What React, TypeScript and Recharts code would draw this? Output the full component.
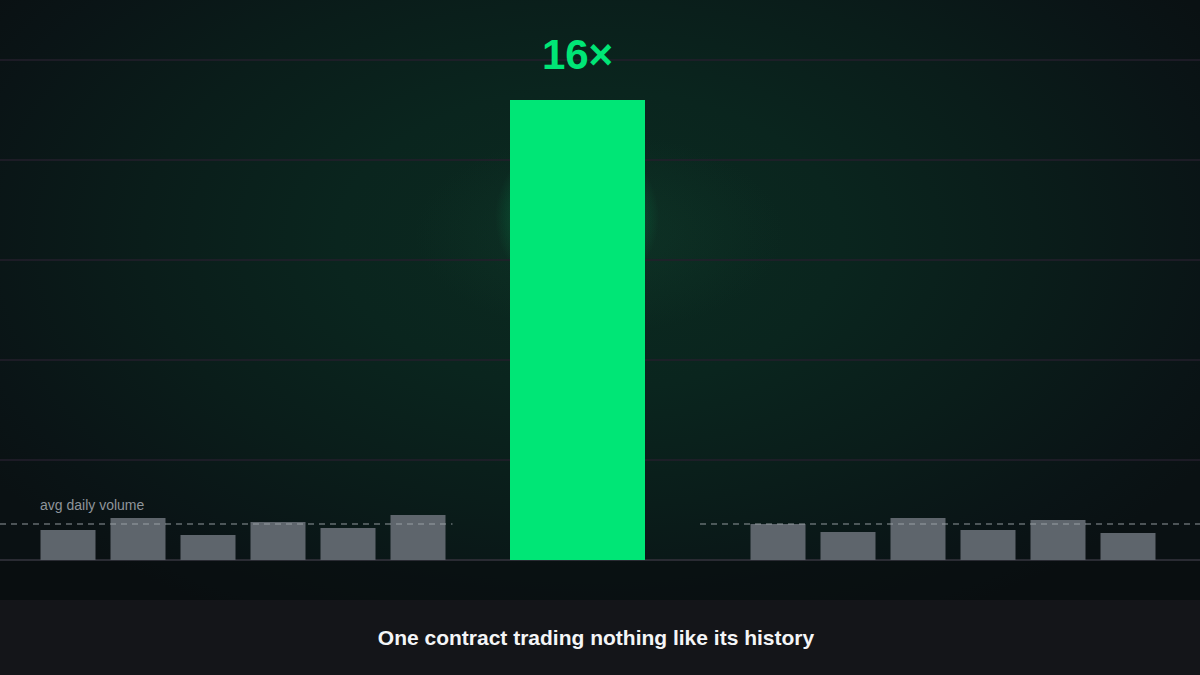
import React from "react";
import {
  BarChart,
  Bar,
  XAxis,
  YAxis,
  ReferenceLine,
  LabelList,
} from "recharts";

// daily volume, thousands of contracts
const preDays = ["D-6", "D-5", "D-4", "D-3", "D-2", "D-1"];
const preVolume = [30, 42, 25, 38, 32, 45];
const spikeDay = ["Today"];
const spikeVolume = [460];
const postDays = ["D+1", "D+2", "D+3", "D+4", "D+5", "D+6"];
const postVolume = [36, 28, 42, 30, 40, 27];
const avgVolume = 36;
const multipleLabel = "16×";
const yTicks = [0, 100, 200, 300, 400, 500];
const caption = "One contract trading nothing like its history";

const FONT = '"Liberation Sans", Arial, Helvetica, sans-serif';
const GREEN = "#00e676";
const GRAY = "#5e656c";
const CHART_H = 600;
const MARGIN = { top: 60, right: 0, bottom: 40, left: 0 };

const toRows = (days: string[], vols: number[]) =>
  days.map((day, i) => ({ day, volume: vols[i] }));

const preData = toRows(preDays, preVolume);
const spikeData = toRows(spikeDay, spikeVolume);
const postData = toRows(postDays, postVolume);

// invisible y axis, shared scale for every panel
const yAxis = (
  <YAxis
    width={0}
    domain={[0, 500]}
    ticks={yTicks}
    tick={false}
    axisLine={false}
    tickLine={false}
  />
);

const avgLine = (withLabel: boolean) => (
  <ReferenceLine
    y={avgVolume}
    stroke="#a0a6ac"
    strokeOpacity={0.6}
    strokeWidth={1.5}
    strokeDasharray="6 5"
    ifOverflow="visible"
    label={
      withLabel
        ? (props: any) => {
            const vb = props.viewBox || {};
            return (
              <text
                x={(vb.x ?? 0) + 40}
                y={(vb.y ?? 0) - 14}
                fill="#8f959b"
                fontSize={14}
                fontFamily={FONT}
              >
                avg daily volume
              </text>
            );
          }
        : undefined
    }
  />
);

export default function App() {
  return (
    <div
      style={{
        position: "fixed",
        left: 0,
        top: 0,
        width: 1200,
        height: 675,
        overflow: "hidden",
        fontFamily: FONT,
        background: "#0b1113",
      }}
    >
      <div
        style={{
          position: "absolute",
          left: 0,
          top: 0,
          width: 1200,
          height: 600,
          background: [
            "radial-gradient(circle 82px at 577px 217px, rgba(0,230,118,0.55) 0%, rgba(0,230,118,0.28) 50%, rgba(0,230,118,0.1) 82%, rgba(0,230,118,0) 100%)",
            "radial-gradient(ellipse 185px 100px at 599px 233px, rgba(22,72,52,0.3), rgba(22,72,52,0) 100%)",
            "radial-gradient(ellipse 720px 430px at 590px 240px, #0b2a20 0%, #0a251e 35%, #0a1d1a 62%, #0a1416 88%, #0a1113 100%)",
          ].join(","),
        }}
      />
      <div
        style={{
          position: "absolute",
          left: 0,
          top: 561,
          width: 1200,
          height: 39,
          background: "rgba(9,13,15,0.6)",
        }}
      />

      {/* full-width layer for the grid lines; its bar is transparent and only sets up the scale */}
      <div style={{ position: "absolute", left: 0, top: 0 }}>
        <BarChart width={1200} height={CHART_H} data={spikeData} margin={MARGIN}>
          <XAxis dataKey="day" hide padding={{ left: 470, right: 515 }} />
          {yAxis}
          <Bar dataKey="volume" fillOpacity={0} barSize={135} isAnimationActive={false} />
          {yTicks.slice(1).map((t) => (
            <ReferenceLine key={t} y={t} stroke="#241f2c" strokeWidth={1.5} ifOverflow="visible" />
          ))}
          <ReferenceLine y={0} stroke="#2a2b33" strokeWidth={2} />
        </BarChart>
      </div>

      {/* spike day */}
      <div style={{ position: "absolute", left: 470, top: 0 }}>
        <BarChart width={215} height={CHART_H} data={spikeData} margin={MARGIN}>
          <XAxis dataKey="day" hide />
          {yAxis}
          <Bar dataKey="volume" fill={GREEN} barSize={135} isAnimationActive={false}>
            <LabelList
              dataKey="volume"
              position="top"
              offset={31}
              formatter={() => multipleLabel}
              fill={GREEN}
              fontSize={42}
              fontWeight={700}
              fontFamily={FONT}
            />
          </Bar>
        </BarChart>
      </div>

      {/* days before */}
      <div style={{ position: "absolute", left: 0, top: 0 }}>
        <BarChart width={452.5} height={CHART_H} data={preData} margin={MARGIN}>
          <XAxis dataKey="day" hide padding={{ left: 32.5, right: 0 }} />
          {yAxis}
          <Bar dataKey="volume" fill={GRAY} barSize={55} isAnimationActive={false} />
          {avgLine(true)}
        </BarChart>
      </div>

      {/* days after */}
      <div style={{ position: "absolute", left: 700, top: 0 }}>
        <BarChart width={500} height={CHART_H} data={postData} margin={MARGIN}>
          <XAxis dataKey="day" hide padding={{ left: 42.5, right: 37.5 }} />
          {yAxis}
          <Bar dataKey="volume" fill={GRAY} barSize={55} isAnimationActive={false} />
          {avgLine(false)}
        </BarChart>
      </div>

      <div
        style={{
          position: "absolute",
          left: 0,
          top: 600,
          width: 1200,
          height: 75,
          background: "#141519",
          color: "#f4f5f7",
          fontSize: 21,
          fontWeight: 700,
          display: "flex",
          alignItems: "center",
          justifyContent: "center",
          paddingRight: 8,
          boxSizing: "border-box",
        }}
      >
        {caption}
      </div>
    </div>
  );
}
